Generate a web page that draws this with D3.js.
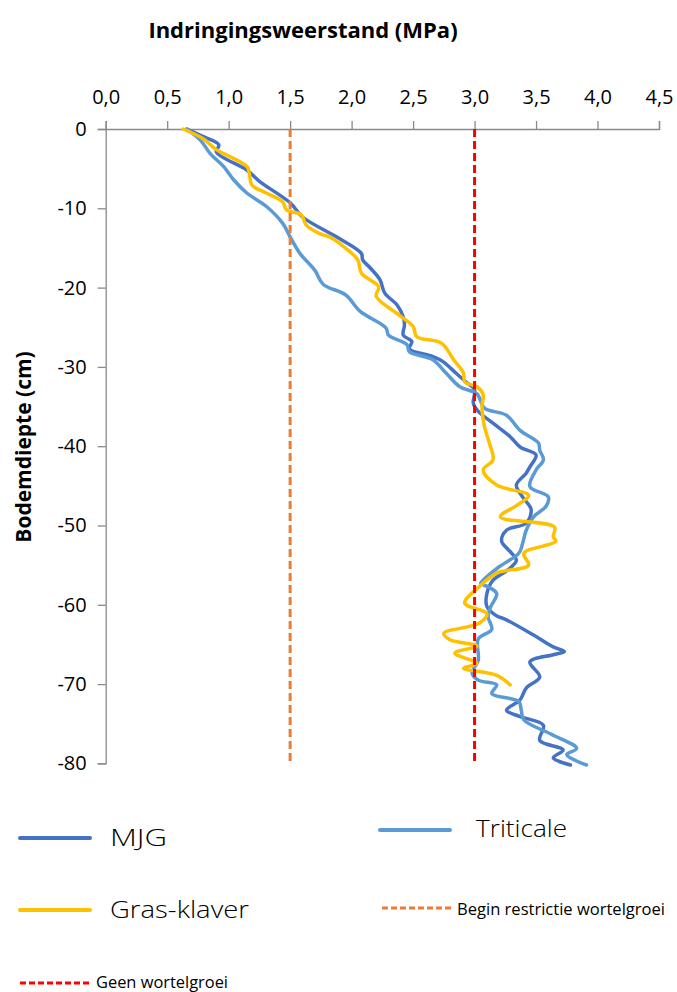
<!DOCTYPE html>
<html>
<head>
<meta charset="utf-8">
<script src="https://cdn.jsdelivr.net/npm/d3@7"></script>
<style>
  html, body { margin: 0; padding: 0; background: #fff; }
  svg { display: block; }
</style>
</head>
<body>
<svg id="chart" width="677" height="992"></svg>
<script>
// ---------- DATA ----------
const xTicks = [0, 0.5, 1, 1.5, 2, 2.5, 3, 3.5, 4, 4.5];
const yTicks = [0, -10, -20, -30, -40, -50, -60, -70, -80];

const mjgDepth = [0, -1, -2, -2.9, -5.2, -6.6, -9.3, -11.1, -13.8, -15.7, -16.5, -17.5, -19, -20.7, -22.2, -23.7, -24.7, -26, -26.8, -27.7, -28.7, -29.3, -30.8, -31.9, -32.9, -34.6, -35.6, -37.1, -38.8, -40.1, -41.1, -42.6, -43.4, -44.9, -46.4, -48, -49.7, -50.6, -52, -53.3, -54.4, -55.6, -56.9, -58.6, -60.2, -61.3, -61.9, -64, -65.3, -65.9, -66.3, -67.2, -69.1, -70.5, -72, -73.3, -74.1, -75.2, -77.1, -78.3, -79.3, -80.2];
const mjgValue = [0.66, 0.8, 0.92, 0.9, 1.15, 1.25, 1.5, 1.6, 1.9, 2.08, 2.09, 2.15, 2.23, 2.27, 2.37, 2.42, 2.43, 2.42, 2.49, 2.47, 2.66, 2.74, 2.85, 2.93, 3.0, 2.99, 3.03, 3.15, 3.29, 3.37, 3.5, 3.45, 3.42, 3.34, 3.39, 3.46, 3.42, 3.26, 3.22, 3.29, 3.34, 3.27, 3.15, 3.1, 3.1, 3.17, 3.26, 3.5, 3.64, 3.73, 3.64, 3.45, 3.53, 3.42, 3.37, 3.26, 3.37, 3.56, 3.53, 3.72, 3.64, 3.78];

const triDepth = [0, -1.4, -3.1, -4.75, -6.4, -8.1, -9.8, -11.9, -13.6, -15.7, -17.8, -19.6, -20.9, -23, -25.1, -26, -27.2, -28.1, -29.1, -30.8, -32.5, -33.4, -35.2, -36.1, -38, -39.6, -40.5, -41.7, -43, -45.1, -46.4, -47.6, -48.9, -50.6, -52.3, -53.5, -55.2, -56.9, -57.3, -57.8, -58.6, -60.3, -61.5, -63.1, -64.3, -67, -68.6, -69.5, -70.1, -71.2, -72.2, -73.3, -74.5, -76.3, -78.1, -78.9, -80.2];
const triValue = [0.66, 0.77, 0.85, 0.96, 1.04, 1.15, 1.31, 1.44, 1.5, 1.58, 1.7, 1.77, 1.95, 2.07, 2.28, 2.3, 2.45, 2.47, 2.66, 2.77, 2.88, 3.02, 3.08, 3.26, 3.37, 3.52, 3.53, 3.56, 3.5, 3.45, 3.6, 3.58, 3.48, 3.42, 3.39, 3.36, 3.2, 3.07, 3.05, 3.12, 3.18, 3.13, 3.11, 3.14, 3.03, 3.03, 2.98, 3.03, 3.18, 3.14, 3.36, 3.38, 3.4, 3.62, 3.83, 3.75, 3.91];

const grasDepth = [0, -1.2, -2.6, -4.75, -5.8, -7.1, -8.1, -9.2, -10.2, -10.8, -12.1, -13.2, -13.6, -14.4, -16.5, -18.2, -19.9, -21.1, -23.5, -24.9, -26.2, -27, -29.1, -30.8, -31.9, -32.5, -33.5, -35, -37.5, -39.6, -41.7, -43, -44.9, -46.2, -47.4, -48.9, -50.2, -51.4, -52, -53.5, -55, -56, -57.7, -59.8, -61.1, -62.3, -63.6, -64.4, -65.2, -66.1, -67.4, -68, -68.9, -70.1];
const grasValue = [0.63, 0.79, 0.9, 1.15, 1.17, 1.19, 1.31, 1.44, 1.47, 1.59, 1.63, 1.74, 1.82, 1.9, 2.05, 2.08, 2.22, 2.2, 2.39, 2.5, 2.53, 2.73, 2.83, 2.91, 2.92, 3.02, 3.07, 3.06, 3.08, 3.12, 3.15, 3.07, 3.18, 3.44, 3.35, 3.21, 3.65, 3.64, 3.66, 3.4, 3.44, 3.18, 3.04, 2.92, 3.1, 3.04, 2.75, 2.8, 3.02, 2.84, 3.02, 2.91, 3.18, 3.29];

const refValues = [1.5, 3.0];
const refDepths = [0, -80];

const seriesNames = ["MJG", "Triticale", "Gras-klaver", "Begin restrictie wortelgroei", "Geen wortelgroei"];
const seriesColors = ["#4472C4", "#5B9BD5", "#FFC000", "#ED7D31", "#FF0000"];

const titleText = "Indringingsweerstand (MPa)";
const yTitleText = "Bodemdiepte (cm)";

// ---------- CHART ----------
const svg = d3.select("#chart");
const plotLeft = 105.7, plotRight = 659, plotTop = 129, plotBottom = 763.4;

const x = d3.scaleLinear().domain([0, 4.5]).range([plotLeft, plotRight]);
const y = d3.scaleLinear().domain([0, -80]).range([plotTop, plotBottom]);

const axisColor = "#898989";
const font = "'Open Sans', sans-serif";

// title
svg.append("text")
  .attr("x", 303).attr("y", 38)
  .attr("text-anchor", "middle")
  .attr("font-family", font)
  .attr("font-weight", 700)
  .attr("font-size", 22)
  .attr("fill", "#000")
  .text(titleText);

// y title
svg.append("text")
  .attr("transform", "translate(31,447) rotate(-90)")
  .attr("text-anchor", "middle")
  .attr("font-family", font)
  .attr("font-weight", 700)
  .attr("font-size", 21)
  .attr("fill", "#000")
  .text(yTitleText);

// x axis (top)
const xAxis = d3.axisTop(x)
  .tickValues(xTicks)
  .tickSize(8)
  .tickPadding(17)
  .tickFormat(d => d3.format(".1f")(d).replace(".", ","));
const gx = svg.append("g").attr("transform", `translate(0,${plotTop})`).call(xAxis);
gx.select(".domain").attr("stroke", axisColor).attr("stroke-width", 1.3);
gx.selectAll(".tick line").attr("stroke", axisColor).attr("stroke-width", 1.3);
gx.selectAll(".tick text")
  .attr("font-family", font)
  .attr("font-size", 20)
  .attr("fill", "#000");

// y axis (left)
const yAxis = d3.axisLeft(y)
  .tickValues(yTicks)
  .tickSize(8)
  .tickPadding(11)
  .tickFormat(d => String(d));
const gy = svg.append("g").attr("transform", `translate(${plotLeft},0)`).call(yAxis);
gy.select(".domain").attr("stroke", axisColor).attr("stroke-width", 1.3);
gy.selectAll(".tick line").attr("stroke", axisColor).attr("stroke-width", 1.3);
gy.selectAll(".tick text")
  .attr("font-family", font)
  .attr("font-size", 20)
  .attr("fill", "#000");

// series
const line = d3.line()
  .x(d => x(d[1]))
  .y(d => y(d[0]))
  .curve(d3.curveCatmullRom.alpha(0.5));

const series = [
  { depth: mjgDepth, value: mjgValue, color: seriesColors[0] },
  { depth: triDepth, value: triValue, color: seriesColors[1] },
  { depth: grasDepth, value: grasValue, color: seriesColors[2] }
];

series.forEach(s => {
  const pts = s.depth.map((d, i) => [d, s.value[i]]);
  svg.append("path")
    .datum(pts)
    .attr("d", line)
    .attr("fill", "none")
    .attr("stroke", s.color)
    .attr("stroke-width", 3.5)
    .attr("stroke-linejoin", "round")
    .attr("stroke-linecap", "round");
});

// reference lines
const refLine = d3.line().x(d => x(d[1])).y(d => y(d[0]));
refValues.forEach((v, i) => {
  svg.append("path")
    .datum(refDepths.map(d => [d, v]))
    .attr("d", refLine)
    .attr("fill", "none")
    .attr("stroke", seriesColors[3 + i])
    .attr("stroke-width", 3)
    .attr("stroke-dasharray", "8,4");
});

// legend
const legendItems = [
  { name: seriesNames[0], color: seriesColors[0], dash: null, lx: 20, ly: 838, tx: 110, ty: 838, fs: 24, w: 57 },
  { name: seriesNames[1], color: seriesColors[1], dash: null, lx: 380, ly: 830, tx: 476, ty: 829, fs: 24, w: 91 },
  { name: seriesNames[2], color: seriesColors[2], dash: null, lx: 20, ly: 910, tx: 110, ty: 910, fs: 24, w: 139 },
  { name: seriesNames[3], color: seriesColors[3], dash: "6,3", lx: 382, ly: 908, tx: 457, ty: 909, fs: 16, w: 208 },
  { name: seriesNames[4], color: seriesColors[4], dash: "6,3", lx: 20, ly: 983, tx: 96, ty: 982, fs: 16, w: 132 }
];

legendItems.forEach(it => {
  const l = svg.append("line")
    .attr("x1", it.lx).attr("x2", it.lx + 70)
    .attr("y1", it.ly).attr("y2", it.ly)
    .attr("stroke", it.color)
    .attr("stroke-width", it.dash ? 3 : 4)
    .attr("stroke-linecap", it.dash ? "butt" : "round");
  if (it.dash) l.attr("stroke-dasharray", it.dash);
  svg.append("text")
    .attr("x", it.tx).attr("y", it.ty)
    .attr("dy", "0.35em")
    .attr("font-family", font)
    .attr("font-size", it.fs)
    .attr("font-weight", it.dash ? 400 : 300)
    .attr("textLength", it.w)
    .attr("lengthAdjust", "spacingAndGlyphs")
    .attr("fill", "#000")
    .text(it.name);
});
</script>
</body>
</html>
